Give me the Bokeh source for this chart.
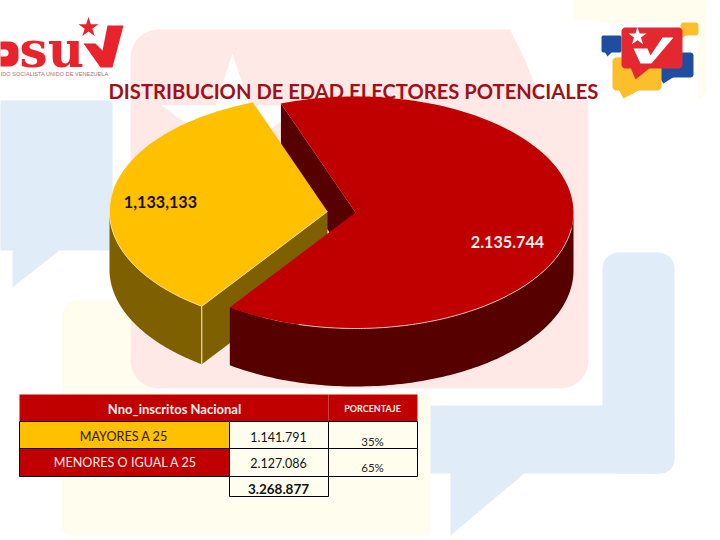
import numpy as np
from bokeh.core.properties import value
from bokeh.embed import file_html
from bokeh.models import Range1d
from bokeh.plotting import figure
from bokeh.resources import INLINE

# Pie values
slice_values = [1133133, 2135744]
slice_labels = ["1,133,133", "2.135.744"]

# Table
table_header = "Nno_inscritos Nacional"
table_pct_header = "PORCENTAJE"
row_names = ["MAYORES  A 25", "MENORES O IGUAL A 25"]
row_counts = ["1.141.791", "2.127.086"]
row_pcts = ["35%", "65%"]
table_total = "3.268.877"

title = "DISTRIBUCION DE EDAD ELECTORES POTENCIALES"

RED = "#C00000"
RED_DARK = "#560000"
YELLOW = "#FFC000"
YELLOW_DARK = "#7F6000"
FONT = "Lato"

p = figure(
    width=720,
    height=540,
    x_range=Range1d(0, 720),
    y_range=Range1d(540, 0),
    x_axis_type=None,
    y_axis_type=None,
    output_backend="svg",
    toolbar_location=None,
    min_border=0,
    outline_line_color=None,
)
p.grid.visible = False


def rounded(x0, y0, x1, y1, r):
    xs, ys = [], []
    corners = [(x1 - r, y0 + r, 90, 0), (x1 - r, y1 - r, 0, -90), (x0 + r, y1 - r, -90, -180), (x0 + r, y0 + r, 180, 90)]
    for cx, cy, a0, a1 in corners:
        t = np.radians(np.linspace(a0, a1, 10))
        xs += list(cx + r * np.cos(t))
        ys += list(cy - r * np.sin(t))
    return xs, ys


def bubble(x0, y0, x1, y1, r, color, tail=None):
    xs, ys = rounded(x0, y0, x1, y1, r)
    p.patch(xs, ys, fill_color=color, line_color=None)
    if tail:
        p.patch([t[0] for t in tail], [t[1] for t in tail], fill_color=color, line_color=None)


# Watermark behind everything
PALE_BLUE = "#E1ECF9"
PALE_YELLOW = "#FFFEEE"
PALE_RED = "#FFE9E7"
bubble(-30, 100, 112, 250, 4, PALE_BLUE, [(12, 249), (60, 249), (12, 287)])
bubble(602, 252, 674, 473, 16, PALE_BLUE)
bubble(392, 405, 674, 473, 14, PALE_BLUE, [(450, 472), (525, 472), (450, 535)])
bubble(62, 300, 150, 535, 14, PALE_YELLOW)
bubble(62, 392, 430, 535, 6, PALE_YELLOW)
bubble(573, -20, 706, 100, 12, PALE_YELLOW)
bubble(130, 29, 588, 388, 28, PALE_RED)
p.patch([505, 600, 600, 540, 525], [20, 20, 100, 100, 60], fill_color="white", line_color=None)
p.scatter([232], [128], marker="star", size=150, fill_color="white", line_color=None)

# PSUV logo
LOGO_RED = "#E8232B"
bubble(-12, 41, 18, 66, 9, LOGO_RED)
bubble(-12, 49, 8, 56, 3, "white")
p.text([19], [49], text=["su"], text_font=value("DejaVu Serif"), text_font_style="bold",
       text_font_size="50px", text_color=LOGO_RED, text_baseline="alphabetic")
p.patch([83, 100, 112, 123, 107, 102, 95], [43, 67, 67, 25, 25, 50, 43], fill_color=LOGO_RED, line_color=None)
p.scatter([88], [27], marker="star", size=21, fill_color=LOGO_RED, line_color=None)
p.text([108], [73], text=["IDO SOCIALISTA UNIDO DE VENEZUELA"], text_font=value("Liberation Sans"),
       text_font_size="5.6px", text_color="#B07070", text_align="right", text_baseline="middle")

# Right hand logo
p.quad(left=[600], right=[697], top=[22], bottom=[100], fill_color="white", line_color=None)
bubble(601, 35, 621, 52, 2, "#1F4EA1", [(604, 51), (612, 51), (607, 56)])
bubble(680, 22, 698, 35, 3, "#FDBE2C", [(680, 34), (688, 34), (682, 37)])
bubble(655, 52, 693, 77, 3, "#1F4EA1", [(658, 76), (674, 76), (663, 83)])
bubble(612, 57, 661, 90, 4, "#FDBE2C", [(618, 89), (640, 89), (623, 98)])
bubble(621, 27, 682, 68, 4, "#E4282F", [(630, 67), (650, 67), (635, 79)])
p.scatter([637], [36], marker="star", size=19, fill_color="white", line_color=None)
p.patch([633, 647, 650, 662, 673, 651, 640], [48, 48, 55, 37, 37, 63, 63], fill_color="white", line_color=None)

p.text([108], [90], text=[title], text_font=value(FONT), text_font_style="bold", text_font_size="20.2px",
       text_color="#A01018", text_baseline="middle")

# 3D pie: angles come from the slice values
rx, ry, depth = 218, 116, 58
yellow_c = (327, 211)
red_c = (355, 212)
start = 110
split = start + 360 * slice_values[0] / sum(slice_values)
end = start + 360


def arc(c, a0, a1):
    t = np.radians(np.linspace(a0, a1, 120))
    return c[0] + rx * np.cos(t), c[1] - ry * np.sin(t)


def side_wall(c, a0, a1, color):
    xs, ys = arc(c, a0, a1)
    p.patch(np.r_[xs, xs[::-1]], np.r_[ys, ys[::-1] + depth], fill_color=color, line_color=None)


def radial_wall(c, a, color):
    x, y = arc(c, a, a)
    p.patch([c[0], x[0], x[0], c[0]], [c[1], y[0], y[0] + depth, c[1] + depth], fill_color=color, line_color=None)


def top_face(c, a0, a1, color):
    xs, ys = arc(c, a0, a1)
    p.patch(np.r_[c[0], xs], np.r_[c[1], ys], fill_color=color, line_color=None)


radial_wall(red_c, start, RED_DARK)

side_wall(yellow_c, 180, split, YELLOW_DARK)
radial_wall(yellow_c, split, YELLOW_DARK)
top_face(yellow_c, start, split, YELLOW)
xs, ys = arc(yellow_c, 170, split)
p.line(np.r_[xs, yellow_c[0]], np.r_[ys, yellow_c[1]], line_color="#FFE9A8", line_width=0.8)
p.line([xs[-1], xs[-1]], [ys[-1], ys[-1] + depth], line_color="#FFF3C8", line_width=1)

side_wall(red_c, split, 360, RED_DARK)
top_face(red_c, split, end, RED)
xs, ys = arc(red_c, 255, 352)
p.line(xs, ys, line_color="#FFE3D6", line_width=0.8)

p.text([160], [201], text=[slice_labels[0]], text_font=value(FONT), text_font_style="bold", text_font_size="16.2px",
       text_color="#1A1000", text_align="center", text_baseline="middle")
p.text([507], [241], text=[slice_labels[1]], text_font=value(FONT), text_font_style="bold", text_font_size="16.2px",
       text_color="#FBEDE8", text_align="center", text_baseline="middle")

# Table
col_x = [19, 229, 328, 417]
row_y = [394, 421, 448, 476, 496]
p.quad(left=[col_x[0], col_x[2]], right=[col_x[2], col_x[3]], top=[row_y[0]] * 2, bottom=[row_y[1]] * 2,
       fill_color=RED, line_color=None)
p.quad(left=[col_x[0]], right=[col_x[1]], top=[row_y[1]], bottom=[row_y[2]], fill_color=YELLOW, line_color="black")
p.quad(left=[col_x[0]], right=[col_x[1]], top=[row_y[2]], bottom=[row_y[3]], fill_color=RED, line_color="black")
for i in [1, 2]:
    p.quad(left=col_x[1:3], right=col_x[2:4], top=[row_y[i]] * 2, bottom=[row_y[i + 1]] * 2,
           fill_color=None, line_color="black")
p.quad(left=[col_x[1]], right=[col_x[2]], top=[row_y[3]], bottom=[row_y[4]], fill_color=None, line_color="black")

name_y = [436, 462]
pct_y = [441, 467]
name_colors = ["#2A1A00", "#FBEDE8"]
p.text([174], [408], text=[table_header], text_font=value(FONT), text_font_style="bold", text_font_size="13px",
       text_color="#FBEDE8", text_align="center", text_baseline="middle")
p.text([372], [408], text=[table_pct_header], text_font=value(FONT), text_font_style="bold", text_font_size="9px",
       text_color="#FBEDE8", text_align="center", text_baseline="middle")
p.text([125, 125], name_y, text=row_names, text_font=value(FONT), text_font_size="12.6px", text_color=name_colors,
       text_align="center", text_baseline="middle")
p.text([278, 278], name_y, text=row_counts, text_font=value(FONT), text_font_size="12.5px", text_color="#111111",
       text_align="center", text_baseline="middle")
p.text([372, 372], pct_y, text=row_pcts, text_font=value(FONT), text_font_size="11.5px", text_color="#222222",
       text_align="center", text_baseline="middle")
p.text([278], [488], text=[table_total], text_font=value(FONT), text_font_style="bold", text_font_size="13.5px",
       text_color="#111111", text_align="center", text_baseline="middle")

open("out.html", "w").write(file_html(p, INLINE))
